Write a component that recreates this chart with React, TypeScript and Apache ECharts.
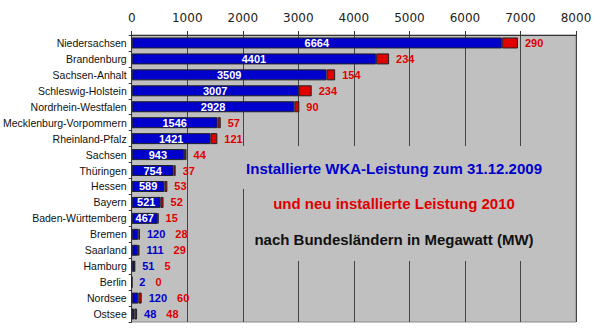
import React, { useEffect, useRef } from "react";
import * as echarts from "echarts";

const categories = [
  "Niedersachsen", "Brandenburg", "Sachsen-Anhalt", "Schleswig-Holstein",
  "Nordrhein-Westfalen", "Mecklenburg-Vorpommern", "Rheinland-Pfalz", "Sachsen",
  "Thüringen", "Hessen", "Bayern", "Baden-Württemberg", "Bremen", "Saarland",
  "Hamburg", "Berlin", "Nordsee", "Ostsee",
];
const installed2009 = [6664, 4401, 3509, 3007, 2928, 1546, 1421, 943, 754, 589, 521, 467, 120, 111, 51, 2, 120, 48];
const new2010 = [290, 234, 154, 234, 90, 57, 121, 44, 37, 53, 52, 15, 28, 29, 5, 0, 60, 48];
const xTicks = [0, 1000, 2000, 3000, 4000, 5000, 6000, 7000, 8000];
const titleLines = [
  "Installierte WKA-Leistung zum 31.12.2009",
  "und neu installierte Leistung 2010",
  "nach Bundesländern in Megawatt (MW)",
];
const insideLabelMin = 400;

const BLUE = "#0000cc";
const RED = "#e00000";
const GRAY = "#c0c0c0";
const FONT = "'Liberation Sans', Arial, sans-serif";

export default function App() {
  const ref = useRef<HTMLDivElement>(null);
  useEffect(() => {
    if (!ref.current) return;
    const chart = echarts.init(ref.current, null, { renderer: "svg" });
    const valueLabel = { fontFamily: FONT, fontWeight: "bold" as const, fontSize: 11 };
    chart.setOption({
      animation: false,
      backgroundColor: "#ffffff",
      grid: {
        left: 131, right: 24, top: 35, bottom: 11,
        show: true, backgroundColor: GRAY, borderColor: "#8a8a8a", borderWidth: 1,
      },
      xAxis: {
        type: "value", position: "top", min: xTicks[0], max: xTicks[xTicks.length - 1], interval: 1000,
        axisLine: { show: true, lineStyle: { color: "#333", width: 1 } },
        axisTick: { show: true, length: 4, lineStyle: { color: "#333" } },
        axisLabel: {
          color: "#222", fontFamily: "'DejaVu Sans', Verdana, sans-serif", fontSize: 12, margin: 11,
          formatter: (v: number) => String(v),
        },
        splitLine: { show: true, lineStyle: { color: "#444", width: 1 } },
      },
      yAxis: {
        type: "category", data: categories, inverse: true,
        axisLine: { show: true, lineStyle: { color: "#333", width: 1 } },
        axisTick: { show: true, length: 3, lineStyle: { color: "#333" } },
        axisLabel: { color: "#111", fontFamily: FONT, fontSize: 10.5, margin: 5 },
      },
      series: [
        {
          type: "bar", stack: "total", barWidth: 11,
          itemStyle: { color: BLUE, borderColor: "#222", borderWidth: 1 },
          label: { ...valueLabel, position: "inside", color: "#ffffff" },
          data: installed2009.map((v) => ({ value: v, label: { show: v >= insideLabelMin } })),
        },
        {
          type: "bar", stack: "total", barWidth: 11,
          itemStyle: { color: RED, borderColor: "#222", borderWidth: 1 },
          label: {
            show: true, position: "right", distance: 7,
            formatter: (p: any) => {
              const i = p.dataIndex;
              return installed2009[i] >= insideLabelMin
                ? `{r|${new2010[i]}}`
                : `{b|${installed2009[i]}}{r|${new2010[i]}}`;
            },
            rich: {
              b: { ...valueLabel, color: BLUE, padding: [0, 10, 0, 0] },
              r: { ...valueLabel, color: RED },
            },
          },
          data: new2010,
        },
      ],
      graphic: [
        { type: "rect", z: 1, silent: true, shape: { x: 197, y: 146, width: 377, height: 43 }, style: { fill: GRAY } },
        { type: "rect", z: 1, silent: true, shape: { x: 246, y: 189, width: 328, height: 72 }, style: { fill: GRAY } },
        { type: "text", z: 10, x: 394, y: 168, style: { text: titleLines[0], fill: BLUE, font: `bold 15px ${FONT}`, textAlign: "center", textVerticalAlign: "middle" } },
        { type: "text", z: 10, x: 394, y: 203, style: { text: titleLines[1], fill: RED, font: `bold 15px ${FONT}`, textAlign: "center", textVerticalAlign: "middle" } },
        { type: "text", z: 10, x: 394, y: 239, style: { text: titleLines[2], fill: "#111", font: `bold 15px ${FONT}`, textAlign: "center", textVerticalAlign: "middle" } },
      ],
    });
    return () => chart.dispose();
  }, []);
  return <div ref={ref} style={{ position: "absolute", left: 0, top: 0, width: 600, height: 333 }} />;
}
